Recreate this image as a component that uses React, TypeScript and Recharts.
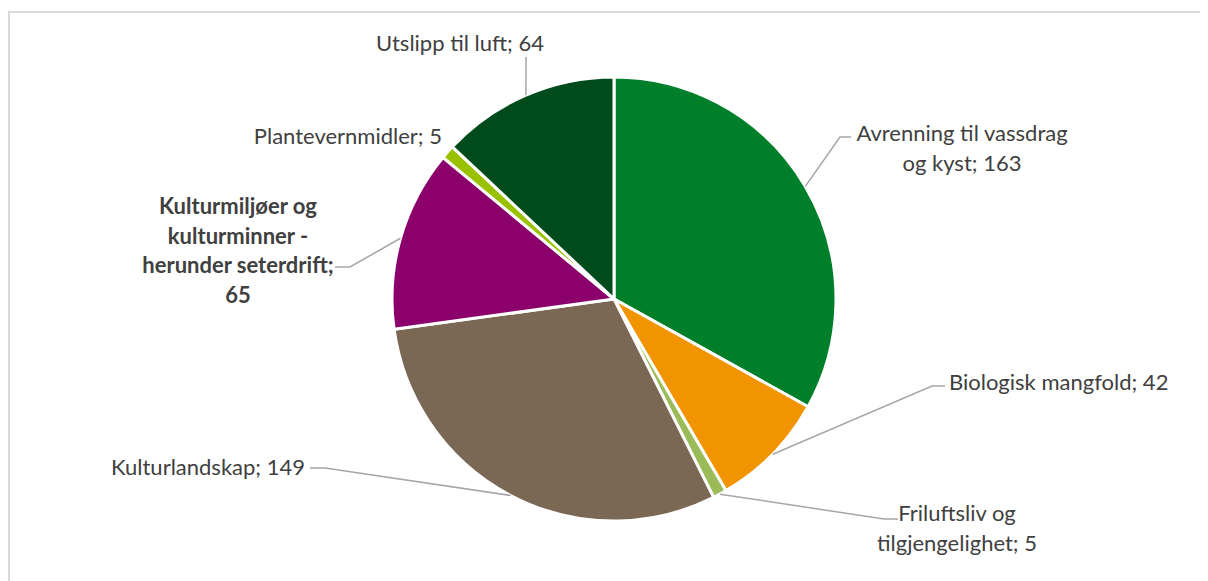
import { PieChart, Pie, Cell } from 'recharts';

// Antall tiltak fordelt på miljøtema
const categories = [
  'Avrenning til vassdrag og kyst',
  'Biologisk mangfold',
  'Friluftsliv og tilgjengelighet',
  'Kulturlandskap',
  'Kulturmiljøer og kulturminner - herunder seterdrift',
  'Plantevernmidler',
  'Utslipp til luft',
];
const values = [163, 42, 5, 149, 65, 5, 64];
const colors = ['#007f2b', '#f29400', '#9bbb59', '#7a6855', '#8c006c', '#9ac100', '#004b1b'];

// label text as it wraps in the original
const labelLines = [
  ['Avrenning til vassdrag', 'og kyst; 163'],
  ['Biologisk mangfold; 42'],
  ['Friluftsliv og', 'tilgjengelighet; 5'],
  ['Kulturlandskap; 149'],
  ['Kulturmiljøer og', 'kulturminner -', 'herunder seterdrift;', '65'],
  ['Plantevernmidler; 5'],
  ['Utslipp til luft; 64'],
];
const boldLabel = [false, false, false, false, true, false, false];

// label placement relative to the pie centre: elbow, line end, text x, first line y, anchor
const labelLayout = [
  { elbow: [226, -162], end: [237, -162], tx: 348, ty: -167, anchor: 'middle' },
  { elbow: [318, 87], end: [331, 87], tx: 335, ty: 82, anchor: 'start' },
  { elbow: [270, 220], end: [284, 220], tx: 343, ty: 213, anchor: 'middle' },
  { elbow: [-289, 169], end: [-304, 169], tx: -309, ty: 167, anchor: 'end' },
  { elbow: [-264, -32], end: [-279, -32], tx: -376, ty: -94, anchor: 'middle' },
  { elbow: null, end: null, tx: -172, ty: -164, anchor: 'end' },
  { elbow: [-88, -242], end: [-88, -242], tx: -154, ty: -257, anchor: 'middle' },
];

const data = categories.map((name, i) => ({ name, value: values[i] }));

const RADIAN = Math.PI / 180;
const LINE_H = 29.5;

const renderLabel = (props: any) => {
  const { cx, cy, midAngle, outerRadius, index } = props;
  const lay = labelLayout[index];
  const sx = cx + outerRadius * Math.cos(-midAngle * RADIAN);
  const sy = cy + outerRadius * Math.sin(-midAngle * RADIAN);
  const lines = labelLines[index];
  return (
    <g>
      {lay.elbow && lay.end && (
        <polyline
          points={`${sx},${sy} ${cx + lay.elbow[0]},${cy + lay.elbow[1]} ${cx + lay.end[0]},${cy + lay.end[1]}`}
          fill="none"
          stroke="#a6a6a6"
          strokeWidth={1.5}
        />
      )}
      <text
        x={cx + lay.tx}
        y={cy + lay.ty}
        textAnchor={lay.anchor as any}
        dominantBaseline="central"
        fill="#404040"
        fontSize={22}
        fontWeight={boldLabel[index] ? 700 : 400}
        fontFamily="Lato, 'Open Sans', sans-serif"
      >
        {lines.map((l, j) => (
          <tspan key={j} x={cx + lay.tx} dy={j === 0 ? 0 : LINE_H}>
            {l}
          </tspan>
        ))}
      </text>
    </g>
  );
};

export default function App() {
  return (
    <div style={{ position: 'relative', width: 1200, height: 573, background: '#fff', overflow: 'hidden' }}>
      <div
        style={{
          position: 'absolute',
          left: 0,
          top: 3,
          width: 1200,
          height: 570,
          borderTop: '2px solid #d9d9d9',
          borderLeft: '2px solid #d9d9d9',
          boxSizing: 'border-box',
        }}
      />
      <div style={{ position: 'absolute', left: 0, top: 0 }}>
        <PieChart width={1200} height={573} margin={{ top: 0, right: 0, bottom: 0, left: 0 }}>
          <Pie
            data={data}
            dataKey="value"
            nameKey="name"
            cx={606}
            cy={291}
            outerRadius={222}
            startAngle={90}
            endAngle={-270}
            stroke="#ffffff"
            strokeWidth={3}
            label={renderLabel}
            labelLine={false}
            isAnimationActive={false}
          >
            {data.map((d, i) => (
              <Cell key={d.name} fill={colors[i]} />
            ))}
          </Pie>
        </PieChart>
      </div>
    </div>
  );
}
